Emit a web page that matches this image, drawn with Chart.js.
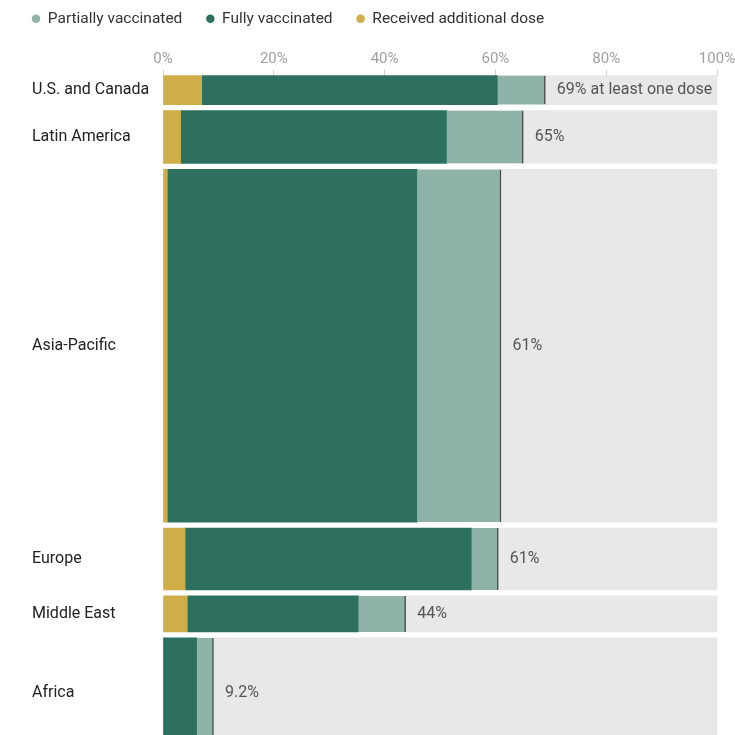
<!DOCTYPE html>
<html>
<head>
<meta charset="utf-8">
<script src="https://cdn.jsdelivr.net/npm/chart.js@4.4.1/dist/chart.umd.min.js"></script>
<style>
  html, body { margin: 0; padding: 0; background: #fff; }
  #wrap { width: 735px; height: 735px; }
</style>
</head>
<body>
<div id="wrap"><canvas id="chart"></canvas></div>
<script>
/* ── Data ── */
const regions = ['U.S. and Canada', 'Latin America', 'Asia-Pacific', 'Europe', 'Middle East', 'Africa'];
// population in millions, sets the thickness of each bar
const population = [355, 645, 4305, 755, 440, 1340];
// shares of population, %
const additionalDose = [7.1, 3.3, 0.9, 4.1, 4.5, 0.1];
const fullyVaccinated = [60.4, 51.2, 45.9, 55.7, 35.3, 6.1];
const atLeastOneDose = [69.1, 65.1, 61.1, 60.6, 43.9, 9.2];
const doseLabels = ['69% at least one dose', '65%', '61%', '61%', '44%', '9.2%'];
const legendNames = ['Partially vaccinated', 'Fully vaccinated', 'Received additional dose'];

const GOLD = '#cfae49';
const GREEN = '#2e7060';
const LIGHT = '#8fb3a8';
const GREY = '#e8e8e8';
const MARKER = '#4a4a4a';
const FONT = "Roboto, 'Liberation Sans', sans-serif";

const GAP = 73;       // white space between bars, in population units
const Y_MAX = 8050;   // bottom of the visible window (Africa runs past it)

let acc = 0;
const centers = population.map(p => {
    const c = acc + p / 2;
    acc += p + GAP;
    return c;
});

const datasets = regions.map((name, i) => ({
    label: name,
    stack: 'regions',
    clip: false,
    data: [
        { x: [0, additionalDose[i]], y: centers[i] },
        { x: [additionalDose[i], fullyVaccinated[i]], y: centers[i] },
        { x: [fullyVaccinated[i], atLeastOneDose[i]], y: centers[i] },
        { x: [atLeastOneDose[i], 100], y: centers[i] },
    ],
    backgroundColor: [GOLD, GREEN, LIGHT, GREY],
    borderColor: MARKER,
    borderWidth: [0, 0, { right: 2 }, 0],
    borderSkipped: false,
    barThickness: (ctx) => {
        const y = ctx.chart.scales.y;
        return Math.abs(y.getPixelForValue(population[i]) - y.getPixelForValue(0));
    },
}));

/* ── Labels after each bar + left-aligned region names ── */
const doseLabelPlugin = {
    id: 'doseLabels',
    afterLayout(chart) {
        chart.scales.y.left = 32;
    },
    afterDatasetsDraw(chart) {
        const { ctx, scales: { x, y } } = chart;
        ctx.save();
        ctx.font = `16px ${FONT}`;
        ctx.fillStyle = '#555';
        ctx.textAlign = 'left';
        ctx.textBaseline = 'middle';
        doseLabels.forEach((t, i) => {
            ctx.fillText(t, x.getPixelForValue(atLeastOneDose[i]) + 11, y.getPixelForValue(centers[i]));
        });
        ctx.restore();
    }
};

const noPadding = (s) => {
    s.paddingLeft = s.paddingRight = s.paddingTop = s.paddingBottom = 0;
};

new Chart(document.getElementById('chart'), {
    type: 'bar',
    data: { datasets },
    plugins: [doseLabelPlugin],
    options: {
        indexAxis: 'y',
        responsive: true, maintainAspectRatio: false,
        animation: false,
        layout: { padding: { top: -13, left: 8, right: 18, bottom: 0 } },
        plugins: {
            tooltip: { enabled: false },
            legend: {
                position: 'top',
                align: 'start',
                labels: {
                    usePointStyle: true,
                    boxWidth: 8,
                    boxHeight: 6,
                    padding: 24,
                    color: '#333',
                    font: { family: FONT, size: 15.5 },
                    generateLabels: () => [LIGHT, GREEN, GOLD].map((c, k) => ({
                        text: legendNames[k],
                        fillStyle: c,
                        strokeStyle: c,
                        lineWidth: 0,
                        pointStyle: 'circle',
                        fontColor: '#333',
                        hidden: false,
                    })),
                }
            }
        },
        scales: {
            x: {
                type: 'linear',
                position: 'top',
                min: 0, max: 100,
                stacked: false,
                grid: { drawOnChartArea: false, drawTicks: true, tickLength: 6, color: '#d4d4d4' },
                border: { display: false },
                ticks: {
                    stepSize: 20,
                    padding: 1,
                    color: '#a0a0a0',
                    font: { family: FONT, size: 15 },
                    callback: (v) => v + '%',
                },
                afterFit: (s) => { s.height = 39; noPadding(s); },
            },
            y: {
                type: 'linear',
                reverse: true,
                offset: false,
                min: 0, max: Y_MAX,
                grid: { display: false, offset: false },
                border: { display: false },
                afterBuildTicks: (s) => { s.ticks = centers.map(v => ({ value: v })); },
                ticks: {
                    autoSkip: false,
                    crossAlign: 'far',
                    color: '#222',
                    font: { family: FONT, size: 16 },
                    callback: (v, idx) => regions[idx],
                },
                afterFit: (s) => { s.width = 155; noPadding(s); },
            }
        }
    }
});
</script>
</body>
</html>
